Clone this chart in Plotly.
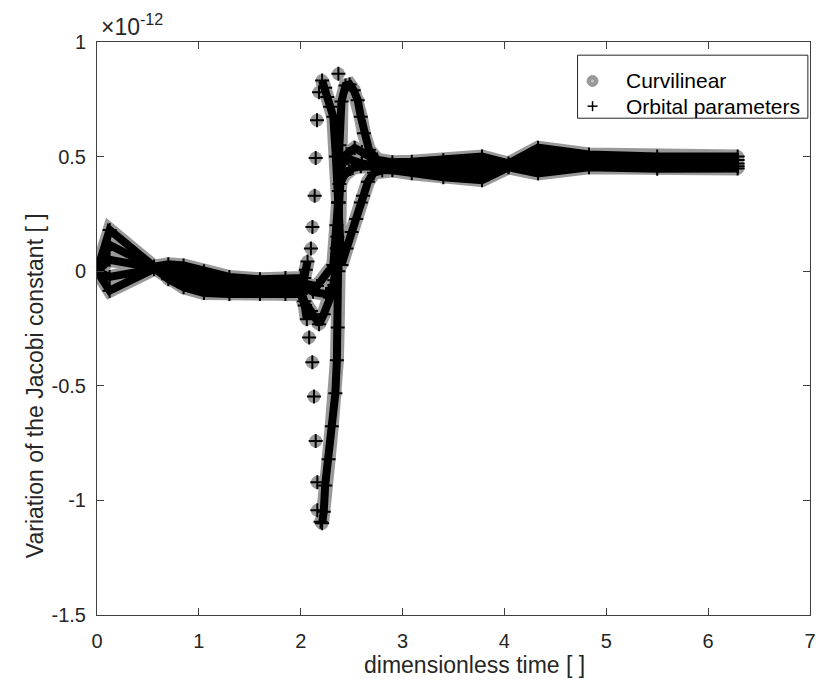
import plotly.graph_objects as go

# ---------------- data (values in units of 1e-12) ----------------
# common time knots
t_fan = [0.0, 0.124, 0.56]
t_mid = [0.7, 0.85, 1.05, 1.3, 1.6, 1.85, 2.0]
t_tail = [2.9, 3.09, 3.4, 3.78, 4.04, 4.33, 4.83, 5.5, 6.29]

# trajectory 1 (jumps upward near t=2.1)
y_fan_c1 = [0.0, 0.18, 0.02]
y_mid_c1 = [0.03, 0.025, 0.0, -0.025, -0.035, -0.03, -0.03]
t_spk_c1 = [2.035, 2.05, 2.067, None, 2.21, 2.24, 2.26, 2.29, 2.32, 2.345, 2.365, 2.38, 2.40,
            2.45, 2.50, 2.545, 2.59, 2.61, 2.66, 2.72, 2.8]
y_spk_c1 = [-0.03, 0.006, 0.042, None, 0.832, 0.80, 0.76, 0.717, 0.674, 0.50, 0.30, 0.12, 0.027,
            0.099, 0.171, 0.228, 0.30, 0.329, 0.39, 0.43, 0.44]
y_tail_c1 = [0.44, 0.427, 0.41, 0.397, 0.453, 0.427, 0.453, 0.447, 0.448]

# trajectory 2 (jumps downward near t=2.1, then loops over the top)
y_fan_c2 = [0.0, 0.115, 0.015]
y_mid_c2 = [-0.035, -0.07, -0.095, -0.10, -0.10, -0.10, -0.10]
t_spk_c2 = [2.04, 2.06, None, 2.21, 2.226, 2.24, 2.274, 2.305, 2.34, 2.355, 2.363, 2.37, 2.375,
            2.38, 2.40, 2.44, 2.48, 2.52, 2.56, 2.59, 2.62, 2.67, 2.75]
y_spk_c2 = [-0.15, -0.21, None, -1.10, -1.05, -0.935, -0.82, -0.677, -0.533, -0.389, -0.246, 0.0, 0.3,
            0.55, 0.74, 0.81, 0.815, 0.79, 0.746, 0.674, 0.602, 0.53, 0.487]
y_tail_c2 = [0.475, 0.478, 0.484, 0.50, 0.47, 0.539, 0.509, 0.50, 0.50]

# trajectory 3 (V-shaped dip, then hook at 0.53)
y_fan_c3 = [0.0, 0.05, 0.015]
y_mid_c3 = [-0.02, -0.05, -0.075, -0.08, -0.085, -0.085, -0.08]
t_spk_c3 = [2.035, 2.10, 2.18, 2.226, 2.29, 2.33, 2.355, 2.37, 2.39, 2.45, 2.53, 2.6, 2.67, 2.75]
y_spk_c3 = [-0.131, -0.174, -0.231, -0.188, -0.116, -0.04, 0.1, 0.3, 0.444, 0.51, 0.537, 0.52, 0.50, 0.48]
y_tail_c3 = [0.465, 0.46, 0.46, 0.47, 0.465, 0.51, 0.49, 0.485, 0.485]

# trajectory 4
y_fan_c4 = [0.0, -0.025, 0.01]
y_mid_c4 = [0.01, 0.0, -0.03, -0.045, -0.055, -0.05, -0.05]
t_spk_c4 = [2.16, 2.32, 2.35, 2.38, 2.43, 2.51, 2.59, 2.7]
y_spk_c4 = [-0.065, 0.027, 0.2, 0.38, 0.42, 0.45, 0.458, 0.455]
y_tail_c4 = [0.455, 0.45, 0.445, 0.45, 0.46, 0.48, 0.475, 0.47, 0.47]

# trajectory 5
y_fan_c5 = [0.0, -0.085, 0.01]
y_mid_c5 = [-0.01, -0.03, -0.05, -0.065, -0.07, -0.065, -0.06]
t_spk_c5 = [2.12, 2.25, 2.33, 2.36, 2.375, 2.40, 2.47, 2.6, 2.75]
y_spk_c5 = [-0.09, -0.10, -0.06, 0.15, 0.35, 0.47, 0.49, 0.47, 0.46]
y_tail_c5 = [0.45, 0.44, 0.43, 0.42, 0.457, 0.45, 0.46, 0.458, 0.458]

# sparse points where the error jumps quickly
t_jump_up = [2.10, 2.115, 2.137, 2.147, 2.16, 2.18, 2.37]
y_jump_up = [0.099, 0.193, 0.329, 0.494, 0.659, 0.781, 0.861]
t_jump_down = [2.083, 2.114, 2.13, 2.147, 2.163, 2.163, 2.195]
y_jump_down = [-0.289, -0.397, -0.547, -0.741, -0.921, -1.043, -1.093]

x_ticks = [0, 1, 2, 3, 4, 5, 6, 7]
y_ticks = [-1.5, -1, -0.5, 0, 0.5, 1]
y_tick_text = ["-1.5", "-1", "-0.5", "0", "0.5", "1"]
legend_names = ["Curvilinear", "Orbital parameters"]

# ---------------- build curves ----------------
curves = [
    (t_fan + t_mid + t_spk_c1 + t_tail, y_fan_c1 + y_mid_c1 + y_spk_c1 + y_tail_c1),
    (t_fan + t_mid + t_spk_c2 + t_tail, y_fan_c2 + y_mid_c2 + y_spk_c2 + y_tail_c2),
    (t_fan + t_mid + t_spk_c3 + t_tail, y_fan_c3 + y_mid_c3 + y_spk_c3 + y_tail_c3),
    (t_fan + t_mid + t_spk_c4 + t_tail, y_fan_c4 + y_mid_c4 + y_spk_c4 + y_tail_c4),
    (t_fan + t_mid + t_spk_c5 + t_tail, y_fan_c5 + y_mid_c5 + y_spk_c5 + y_tail_c5),
]
t_sparse = t_jump_up + t_jump_down
y_sparse = y_jump_up + y_jump_down

GREY = "#999999"
BLACK = "#000000"
FONT = "Liberation Sans, Arial, Helvetica, sans-serif"
TXT = "#262626"

fig = go.Figure()

# grey circles (Curvilinear)
fig.add_trace(go.Scatter(x=t_sparse, y=y_sparse, mode="markers", name=legend_names[0],
                         showlegend=False,
                         marker=dict(symbol="circle", size=13, color=GREY),
                         hoverinfo="skip"))
for tx, ty in curves:
    fig.add_trace(go.Scatter(x=tx, y=ty, mode="lines+markers", showlegend=False,
                             name=legend_names[0],
                             line=dict(color=GREY, width=14),
                             marker=dict(symbol="circle", size=13, color=GREY),
                             hoverinfo="skip"))

# black crosses (Orbital parameters)
fig.add_trace(go.Scatter(x=t_sparse, y=y_sparse, mode="markers", name=legend_names[1],
                         showlegend=False,
                         marker=dict(symbol="cross-thin", size=10, color=BLACK,
                                     line=dict(color=BLACK, width=2)),
                         hoverinfo="skip"))
for tx, ty in curves:
    fig.add_trace(go.Scatter(x=tx, y=ty, mode="lines+markers", showlegend=False,
                             name=legend_names[1],
                             line=dict(color=BLACK, width=8),
                             marker=dict(symbol="cross-thin", size=10, color=BLACK,
                                         line=dict(color=BLACK, width=2)),
                             hoverinfo="skip"))

axis_common = dict(showgrid=False, zeroline=False, showline=True, linecolor="#404040",
                   linewidth=1, mirror="ticks", ticks="inside", ticklen=7,
                   tickcolor="#404040", tickwidth=1,
                   tickfont=dict(family=FONT, size=20, color=TXT))

# legend box drawn in paper coordinates (MATLAB-style)
LX0, LX1, LY0, LY1 = 0.674, 0.997, 0.867, 0.977
GX, TX = 0.695, 0.739
ROW_Y = [0.932, 0.888]

shapes = [
    dict(type="rect", xref="paper", yref="paper", x0=LX0, x1=LX1, y0=LY0, y1=LY1,
         line=dict(color="#262626", width=1), fillcolor="white", layer="above"),
    dict(type="circle", xref="paper", yref="paper", xsizemode="pixel", ysizemode="pixel",
         xanchor=GX, yanchor=ROW_Y[0], x0=-5.5, x1=5.5, y0=-5.5, y1=5.5,
         line=dict(color=GREY, width=1), fillcolor=GREY, layer="above"),
    dict(type="circle", xref="paper", yref="paper", xsizemode="pixel", ysizemode="pixel",
         xanchor=GX, yanchor=ROW_Y[0], x0=-1.5, x1=1.5, y0=-1.5, y1=1.5,
         line=dict(color="#c4c4c4", width=0), fillcolor="#c4c4c4", layer="above"),
    dict(type="line", xref="paper", yref="paper", xsizemode="pixel", ysizemode="pixel",
         xanchor=GX, yanchor=ROW_Y[1], x0=-5, x1=5, y0=0, y1=0,
         line=dict(color=BLACK, width=1.5), layer="above"),
    dict(type="line", xref="paper", yref="paper", xsizemode="pixel", ysizemode="pixel",
         xanchor=GX, yanchor=ROW_Y[1], x0=0, x1=0, y0=-5, y1=5,
         line=dict(color=BLACK, width=1.5), layer="above"),
]

annotations = [
    dict(text="dimensionless time [ ]", xref="paper", yref="paper", x=0.53, y=-0.087,
         xanchor="center", yanchor="middle", showarrow=False,
         font=dict(family=FONT, size=23, color=TXT)),
    dict(text="Variation of the Jacobi constant [ ]", xref="paper", yref="paper",
         x=-0.087, y=0.401, xanchor="center", yanchor="middle", textangle=-90,
         showarrow=False, font=dict(family=FONT, size=23, color=TXT)),
    dict(text="×10<sup>-12</sup>", xref="paper", yref="paper", x=0.0, y=1.0, xshift=2,
         xanchor="left", yanchor="bottom", showarrow=False,
         font=dict(family=FONT, size=23, color=TXT)),
]
for name, ry in zip(legend_names, ROW_Y):
    annotations.append(dict(text=name, xref="paper", yref="paper", x=TX, y=ry,
                            xanchor="left", yanchor="middle", showarrow=False,
                            font=dict(family=FONT, size=21, color="#000000")))

fig.update_layout(
    width=838, height=696,
    margin=dict(l=97, r=28, t=42, b=81),
    paper_bgcolor="white", plot_bgcolor="white",
    font=dict(family=FONT, size=20, color=TXT),
    showlegend=False,
    xaxis=dict(range=[0, 7], tickvals=x_ticks, ticklabelstandoff=8, **axis_common),
    yaxis=dict(range=[-1.5, 1], tickvals=y_ticks, ticktext=y_tick_text,
               ticklabelstandoff=6, **axis_common),
    shapes=shapes,
    annotations=annotations,
)

fig.write_html("out.html")
